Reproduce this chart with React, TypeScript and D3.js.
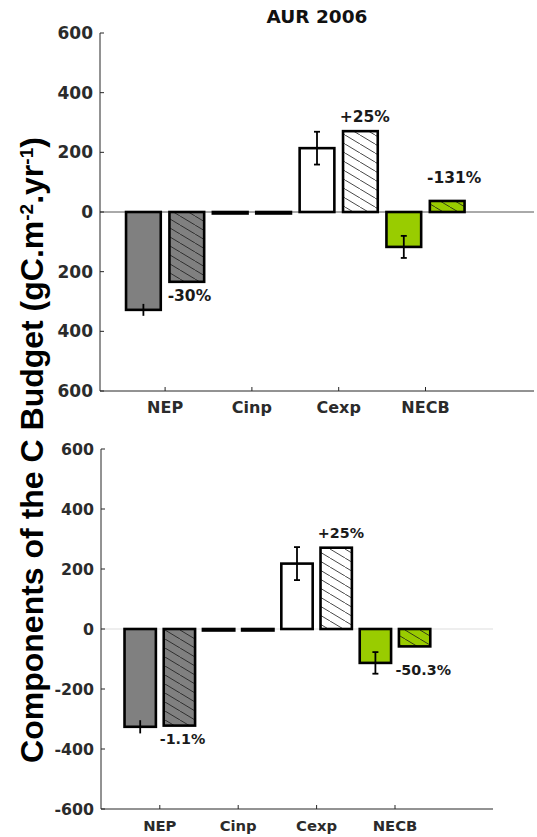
import React from 'react';
import * as d3 from 'd3';

// categories and values (gC.m-2.yr-1)
const categories = ['NEP', 'Cinp', 'Cexp', 'NECB'];
const yTicks = [600, 400, 200, 0, -200, -400, -600];

// top panel: AUR 2006
const topObs = [-328, -5, 214, -117];
const topAlt = [-234, -5, 271, 37];
const topErr = [20, 0, 55, 37];
const topLabels = ['-30%', '', '+25%', '-131%'];
const topLabelX = [1.28, 0, 3.3, 4.33];
const topLabelY = [-298, 0, 302, 97];

// bottom panel
const botObs = [-326, -5, 218, -113];
const botAlt = [-322, -5, 271, -58];
const botErr = [22, 0, 55, 36];
const botLabels = ['-1.1%', '', '+25%', '-50.3%'];
const botLabelX = [1.29, 0, 3.31, 4.36];
const botLabelY = [-382, 0, 304, -152];

const errCaps = [false, false, true, true];
const barColors = ['#808080', '#000000', '#ffffff', '#99cc00'];

const FONT = '"DejaVu Sans", Verdana, sans-serif';
const AXIS = '#262626';

type PanelProps = {
  id: string;
  title?: string;
  obs: number[];
  alt: number[];
  err: number[];
  labels: string[];
  labelX: number[];
  labelY: number[];
  x0: number;
  x1: number;
  yTop: number;
  yBot: number;
  fs: number;
  zeroColor: string;
};

function Panel(p: PanelProps) {
  const x = d3.scaleLinear().domain([0.25, 5.25]).range([p.x0, p.x1]);
  const y = d3.scaleLinear().domain([600, -600]).range([p.yTop, p.yBot]);
  const bw = 0.4;
  const off = 0.25;
  const y0 = y(0);

  const bar = (i: number, v: number, side: number, hatched: boolean) => {
    const cx = x(i + 1 + side * off);
    const w = x(bw) - x(0);
    const left = cx - w / 2;
    const top = Math.min(y(v), y0);
    const h = Math.abs(y(v) - y0);
    return (
      <g key={`${side}-${i}`}>
        <rect x={left} y={top} width={w} height={h} fill={barColors[i]} />
        {hatched && <rect x={left} y={top} width={w} height={h} fill={`url(#hatch-${p.id})`} />}
        <rect x={left} y={top} width={w} height={h} fill="none" stroke="#000" strokeWidth={2.6} />
      </g>
    );
  };

  return (
    <g>
      <defs>
        <pattern id={`hatch-${p.id}`} patternUnits="userSpaceOnUse" width={15} height={9}>
          <path d="M0,0L15,9" stroke="#1a1a1a" strokeWidth={0.8} />
        </pattern>
      </defs>
      {p.title && (
        <text x={x(2.75)} y={p.yTop - 10} textAnchor="middle" fontFamily={FONT} fontWeight="bold" fontSize={18.5} fill="#111">
          {p.title}
        </text>
      )}
      {/* zero line */}
      <line x1={p.x0} x2={p.x1} y1={y0} y2={y0} stroke={p.zeroColor} strokeWidth={1} />
      {/* axes */}
      <line x1={p.x0} x2={p.x0} y1={p.yTop} y2={p.yBot} stroke={AXIS} strokeWidth={1} />
      <line x1={p.x0} x2={p.x1} y1={p.yBot} y2={p.yBot} stroke={AXIS} strokeWidth={1} />
      {yTicks.map((t) => (
        <g key={t}>
          <line x1={p.x0} x2={p.x0 + 4} y1={y(t)} y2={y(t)} stroke={AXIS} />
          <text x={p.x0 - 7} y={y(t)} dy="0.36em" textAnchor="end" fontFamily={FONT} fontWeight="bold" fontSize={p.fs} fill="#2b2b2b">
            {t}
          </text>
        </g>
      ))}
      {categories.map((c, i) => (
        <g key={c}>
          <line x1={x(i + 1)} x2={x(i + 1)} y1={p.yBot} y2={p.yBot - 4} stroke={AXIS} />
          <text x={x(i + 1)} y={p.yBot + 22} textAnchor="middle" fontFamily={FONT} fontWeight="bold" fontSize={p.fs - 1} fill="#2b2b2b">
            {c}
          </text>
        </g>
      ))}
      {categories.map((_, i) => bar(i, p.obs[i], -1, false))}
      {categories.map((_, i) => bar(i, p.alt[i], 1, true))}
      {categories.map((_, i) => {
        if (!p.err[i]) return null;
        const cx = x(i + 1 - off);
        const a = y(p.obs[i] + p.err[i]);
        const b = y(p.obs[i] - p.err[i]);
        return (
          <g key={`e${i}`} stroke="#000" strokeWidth={1.8}>
            <line x1={cx} x2={cx} y1={a} y2={b} />
            {errCaps[i] && <line x1={cx - 3} x2={cx + 3} y1={a} y2={a} />}
            {errCaps[i] && <line x1={cx - 3} x2={cx + 3} y1={b} y2={b} />}
          </g>
        );
      })}
      {p.labels.map((l, i) =>
        l ? (
          <text key={`l${i}`} x={x(p.labelX[i])} y={y(p.labelY[i])} textAnchor="middle" fontFamily={FONT} fontWeight="bold" fontSize={p.fs - 1.5} fill="#1a1a1a">
            {l}
          </text>
        ) : null
      )}
    </g>
  );
}

export default function App() {
  return (
    <svg width={537} height={837} style={{ position: 'absolute', left: 0, top: 0, background: '#fff' }}>
      <Panel id="top" title="AUR 2006" obs={topObs} alt={topAlt} err={topErr} labels={topLabels} labelX={topLabelX} labelY={topLabelY}
        x0={100} x1={534} yTop={33} yBot={391} fs={17} zeroColor="#555" />
      <Panel id="bot" obs={botObs} alt={botAlt} err={botErr} labels={botLabels} labelX={botLabelX} labelY={botLabelY}
        x0={101} x1={493} yTop={449} yBot={809} fs={15.8} zeroColor="#ddd" />
      {/* white box behind the upper part of the y label */}
      <rect x={0} y={85} width={57} height={315} fill="#fff" />
      <text transform="translate(43,450) rotate(-90)" textAnchor="middle" fontFamily='"Liberation Sans", Arial, sans-serif' fontWeight="bold" fontSize={32} fill="#000">
        Components of the C Budget (gC.m<tspan baselineShift="super" fontSize={19}>-2</tspan>.yr<tspan baselineShift="super" fontSize={19}>-1</tspan>)
      </text>
    </svg>
  );
}
